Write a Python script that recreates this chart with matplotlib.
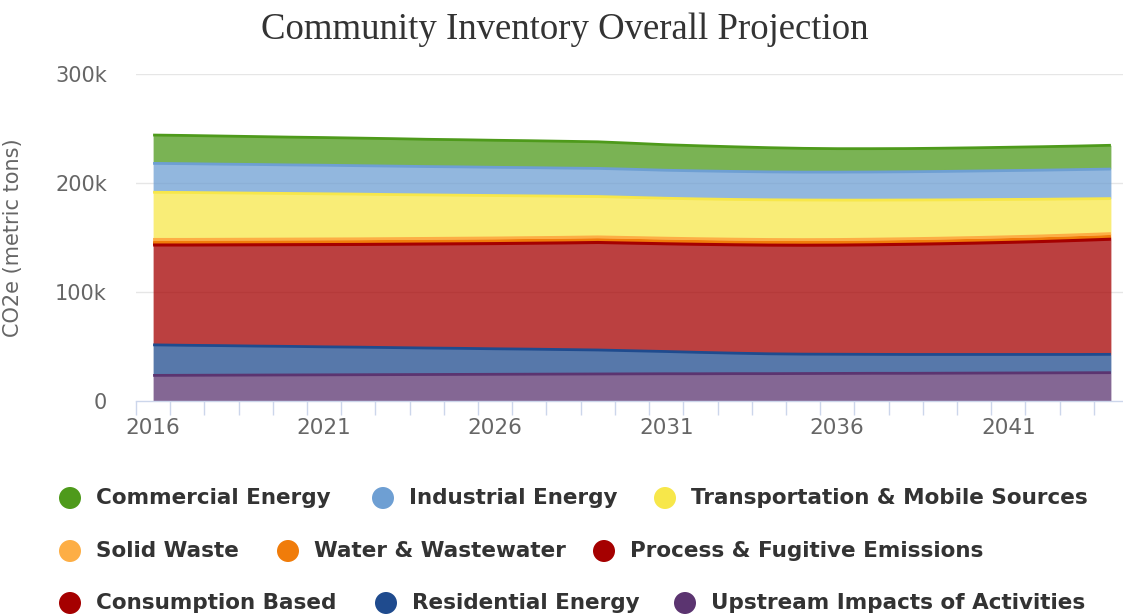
import matplotlib
matplotlib.use("Agg")
import matplotlib.pyplot as plt
from matplotlib.patches import Ellipse
import numpy as np

# Projection years
years = list(range(2016, 2045))

# Emissions by sector, thousand metric tons CO2e (stacked bottom to top)
upstream = [23.5, 23.6, 23.7, 23.8, 23.9, 24.0, 24.1, 24.2, 24.3, 24.4,
            24.5, 24.6, 24.7, 24.8, 24.9, 25.0, 25.0, 25.1, 25.1, 25.2,
            25.3, 25.4, 25.4, 25.5, 25.6, 25.7, 25.8, 25.9, 26.0]
residential = [28.0, 27.5, 27.1, 26.6, 26.2, 25.7, 25.3, 24.8, 24.3, 23.9,
               23.4, 23.0, 22.5, 22.0, 21.2, 20.4, 19.6, 18.8, 18.2, 17.8,
               17.6, 17.4, 17.3, 17.2, 17.1, 17.0, 16.9, 16.8, 16.8]
consumption = [91.5, 91.9, 92.3, 92.8, 93.2, 93.7, 94.1, 94.7, 95.3, 95.8,
               96.4, 97.0, 97.7, 98.5, 98.6, 98.7, 99.0, 99.3, 99.6, 99.8,
               100.0, 100.4, 100.9, 101.4, 102.0, 102.7, 103.5, 104.5, 105.5]
process = [1.5, 1.5, 1.5, 1.5, 1.5, 1.5, 1.5, 1.5, 1.5, 1.5,
           1.5, 1.5, 1.5, 1.5, 1.5, 1.5, 1.5, 1.5, 1.5, 1.5,
           1.5, 1.5, 1.5, 1.5, 1.5, 1.5, 1.5, 1.5, 1.5]
water = [1.3, 1.3, 1.3, 1.3, 1.3, 1.3, 1.3, 1.3, 1.3, 1.3,
         1.3, 1.3, 1.3, 1.3, 1.3, 1.3, 1.3, 1.3, 1.3, 1.3,
         1.3, 1.3, 1.3, 1.3, 1.3, 1.3, 1.3, 1.3, 1.3]
solid_waste = [2.5, 2.5, 2.5, 2.5, 2.5, 2.5, 2.5, 2.5, 2.5, 2.5,
               2.5, 2.5, 2.5, 2.5, 2.5, 2.5, 2.5, 2.5, 2.5, 2.5,
               2.5, 2.5, 2.5, 2.5, 2.5, 2.5, 2.5, 2.5, 2.5]
transportation = [43.2, 43.0, 42.6, 42.2, 41.8, 41.4, 41.0, 40.4, 39.9, 39.4,
                  38.9, 38.3, 37.7, 37.0, 36.8, 36.6, 36.5, 36.4, 36.4, 36.3,
                  36.1, 35.8, 35.5, 35.1, 34.7, 34.2, 33.6, 32.9, 32.1]
industrial = [26.5, 26.4, 26.3, 26.3, 26.2, 26.2, 26.1, 26.1, 26.0, 26.0,
              25.9, 25.9, 25.8, 25.8, 25.8, 25.7, 25.7, 25.7, 25.6, 25.6,
              25.7, 25.8, 25.9, 26.1, 26.3, 26.5, 26.7, 26.9, 27.1]
commercial = [26.0, 25.9, 25.8, 25.6, 25.5, 25.4, 25.3, 25.2, 25.0, 24.9,
              24.8, 24.7, 24.6, 24.4, 23.9, 23.4, 23.0, 22.6, 22.2, 21.8,
              21.5, 21.4, 21.3, 21.3, 21.3, 21.4, 21.5, 21.6, 21.8]

# Legend order (top of stack first)
series_names = ["Commercial Energy", "Industrial Energy", "Transportation & Mobile Sources",
                "Solid Waste", "Water & Wastewater", "Process & Fugitive Emissions",
                "Consumption Based", "Residential Energy", "Upstream Impacts of Activities"]
series_values = [commercial, industrial, transportation, solid_waste, water, process,
                 consumption, residential, upstream]
series_colors = ["#4e9a1b", "#6e9fd3", "#f7e74a", "#fdae45", "#f07c0a", "#a50000",
                 "#a50000", "#1f4b8e", "#5b3470"]

y_ticks = [0, 100, 200, 300]
x_label_years = [2016, 2021, 2026, 2031, 2036, 2041]

W, H = 1123, 614
fig = plt.figure(figsize=(W / 100, H / 100), dpi=100)
fig.patch.set_facecolor("white")

px_left, px_right, px_top, px_bottom = 136, 1128, 74, 401
ax = fig.add_axes([px_left / W, 1 - px_bottom / H,
                   (px_right - px_left) / W, (px_bottom - px_top) / H])
ax.set_facecolor("white")

x = np.array(years, dtype=float)
base = np.zeros(len(years))
layers = []
for name, vals, col in zip(reversed(series_names), reversed(series_values), reversed(series_colors)):
    top = base + np.array(vals)
    layers.append((base.copy(), top.copy(), col))
    base = top

for lo, hi, col in layers:
    ax.fill_between(x, lo, hi, color=col, alpha=0.75, linewidth=0, zorder=2)
for lo, hi, col in layers:
    ax.plot(x, hi, color=col, linewidth=2.0, solid_capstyle="butt", zorder=3)

ax.set_xlim(years[0] - 0.5, years[-1] + 0.5)
ax.set_ylim(0, 300)

for s in ["top", "right", "left"]:
    ax.spines[s].set_visible(False)
ax.spines["bottom"].set_color("#ccd6eb")
ax.spines["bottom"].set_linewidth(1)
ax.spines["bottom"].set_zorder(4)

# Horizontal grid
for t in y_ticks[1:]:
    ax.axhline(t, color="#e6e6e6", linewidth=1, zorder=1)

ax.set_yticks(y_ticks)
ax.set_yticklabels([("%dk" % t) if t else "0" for t in y_ticks])
ax.tick_params(axis="y", length=0, pad=21, labelsize=15, labelcolor="#666666")

# Category ticks between years, labels every five years
ax.set_xticks([yr - 0.5 for yr in years] + [years[-1] + 0.5])
ax.set_xticklabels([])
ax.tick_params(axis="x", which="major", length=10, color="#ccd6eb", width=1)
for yr in x_label_years:
    ax.text(yr, -0.083, str(yr), transform=ax.get_xaxis_transform(),
            ha="center", va="center", fontsize=15.5, color="#666666")

ax.set_ylabel("CO2e (metric tons)", fontsize=15, color="#666666")
ax.yaxis.set_label_coords(-(px_left - 23) / (px_right - px_left), 0.5)

fig.text(565 / W, 1 - 30 / H, "Community Inventory Overall Projection",
         family="Liberation Serif", fontsize=26.5, color="#333333",
         ha="center", va="center")

# Legend: three rows of three items
row_y = [498, 551, 603]
row_marker_x = [[70, 383, 665], [70, 288, 604], [70, 386, 685]]
for i, (name, col) in enumerate(zip(series_names, series_colors)):
    r, c = divmod(i, 3)
    mx, my = row_marker_x[r][c], row_y[r]
    fig.patches.append(Ellipse((mx / W, 1 - my / H), 22 / W, 22 / H,
                               transform=fig.transFigure, facecolor=col,
                               edgecolor="none"))
    fig.text((mx + 26) / W, 1 - my / H, name, fontsize=15.5, fontweight="bold",
             color="#333333", ha="left", va="center")

fig.savefig("out.png", dpi=100, facecolor="white")
